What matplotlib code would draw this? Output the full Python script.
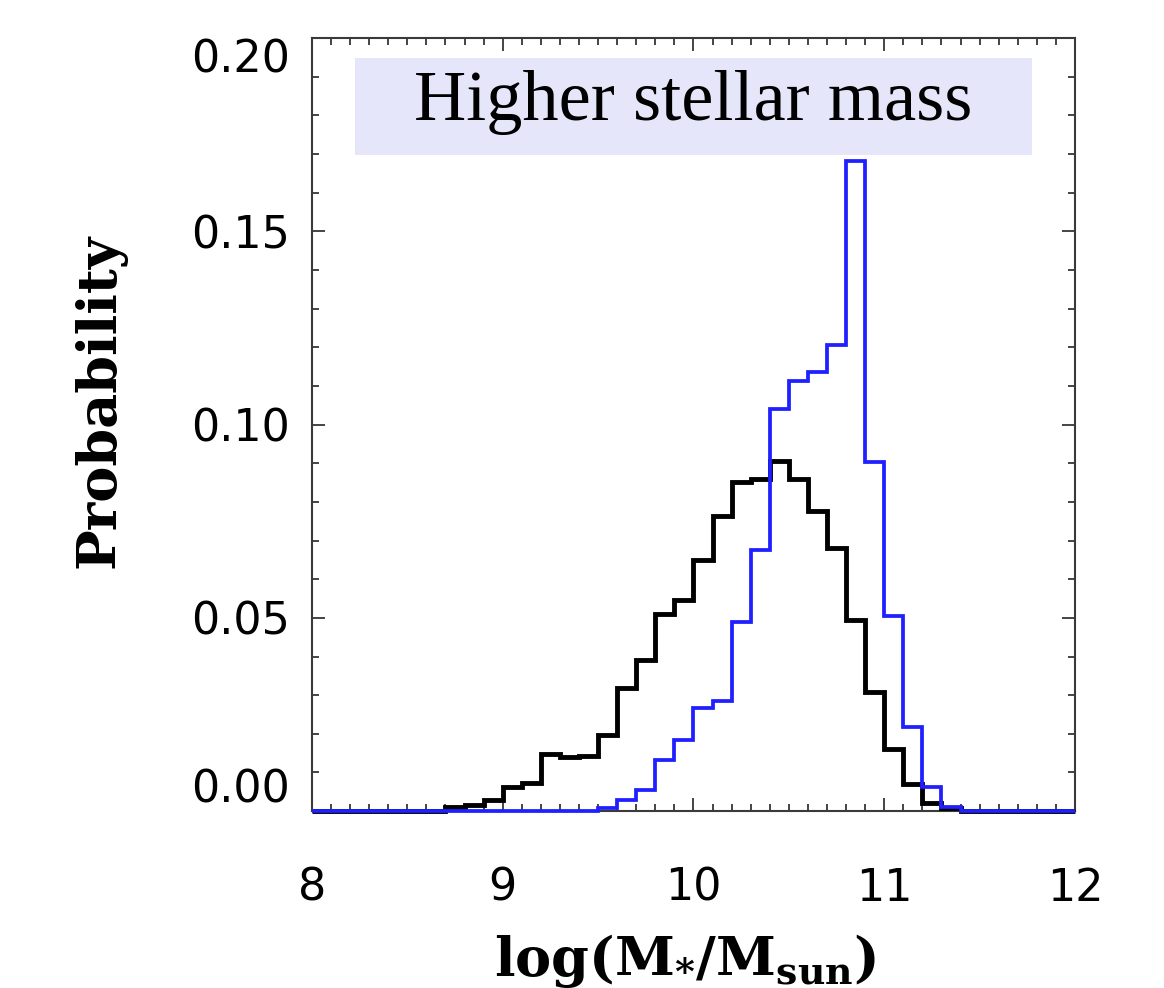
import numpy as np
import matplotlib
matplotlib.use("Agg")
import matplotlib.pyplot as plt
from matplotlib.ticker import MultipleLocator
from matplotlib.patches import Rectangle

# histogram bins: log stellar mass, 0.1 dex wide
bin_edges = np.linspace(8.0, 12.0, 41)

# all galaxies (black)
prob_all = [0, 0, 0, 0, 0, 0, 0,
            0.0010, 0.0015, 0.0028, 0.0063, 0.0073, 0.0149, 0.0140, 0.0142,
            0.0198, 0.0318, 0.0391, 0.0511, 0.0546, 0.0651, 0.0763, 0.0851,
            0.0859, 0.0905, 0.0859, 0.0776, 0.0681, 0.0494, 0.0309, 0.0162,
            0.0069, 0.0020, 0.0007,
            0, 0, 0, 0, 0, 0]

# higher stellar mass selection (blue)
prob_high = [0, 0, 0, 0, 0, 0, 0, 0, 0, 0, 0, 0, 0, 0, 0,
             0.0008, 0.0028, 0.0054, 0.0133, 0.0185, 0.0267, 0.0284, 0.0490,
             0.0675, 0.1040, 0.1113, 0.1137, 0.1207, 0.1682, 0.0902, 0.0505,
             0.0217, 0.0063, 0.0010,
             0, 0, 0, 0, 0, 0]

x_ticks = [8, 9, 10, 11, 12]
y_ticks = [0.00, 0.05, 0.10, 0.15, 0.20]
panel_label = "Higher stellar mass"

plt.rcParams["mathtext.fontset"] = "dejavuserif"

fig = plt.figure(figsize=(11.64, 9.88), dpi=100)
ax = fig.add_axes([0.268, 0.179, 0.6555, 0.7825])

ax.stairs(prob_all, bin_edges, color="black", lw=3.5, zorder=3, clip_on=False)
ax.stairs(prob_high, bin_edges, color="#1f1fff", lw=2.7, zorder=4, clip_on=False)

ax.set_xlim(8, 12)
ax.set_ylim(0, 0.2)
ax.set_xticks(x_ticks)
ax.set_xticklabels([str(t) for t in x_ticks])
ax.set_yticks(y_ticks)
ax.set_yticklabels(["%.2f" % t for t in y_ticks])
ax.xaxis.set_minor_locator(MultipleLocator(0.1))
ax.yaxis.set_minor_locator(MultipleLocator(0.01))

ax.tick_params(which="both", direction="in", top=True, right=True,
               color="#444444", width=1.4, labelsize=32)
ax.tick_params(which="major", length=9.5)
ax.tick_params(which="minor", length=5)
ax.tick_params(axis="x", pad=40)
ax.tick_params(axis="y", pad=16)

# top and bottom y labels stay inside the frame height
ylabels = ax.get_yticklabels()
ylabels[0].set_va("bottom")
ylabels[-1].set_va("top")

for sp in ax.spines.values():
    sp.set_color("#3a3a3a")
    sp.set_linewidth(1.5)

# label box
ax.add_patch(Rectangle((0.0564, 0.8486), 0.8873, 0.1255, transform=ax.transAxes,
                       facecolor="#e6e6fa", edgecolor="none", zorder=1))
ax.text(0.5, 0.894, panel_label, transform=ax.transAxes, ha="center",
        va="baseline", fontsize=52, family="Liberation Serif", zorder=2)

fig.text(0.086, 0.594, "Probability", rotation=90, ha="center", va="center",
         fontsize=39, family="DejaVu Serif", fontweight="bold")
fig.text(0.589, 0.012, r"$\mathbf{log(M_{*}/M_{sun})}$", ha="center",
         va="baseline", fontsize=39)

fig.savefig("out.png", dpi=100)
